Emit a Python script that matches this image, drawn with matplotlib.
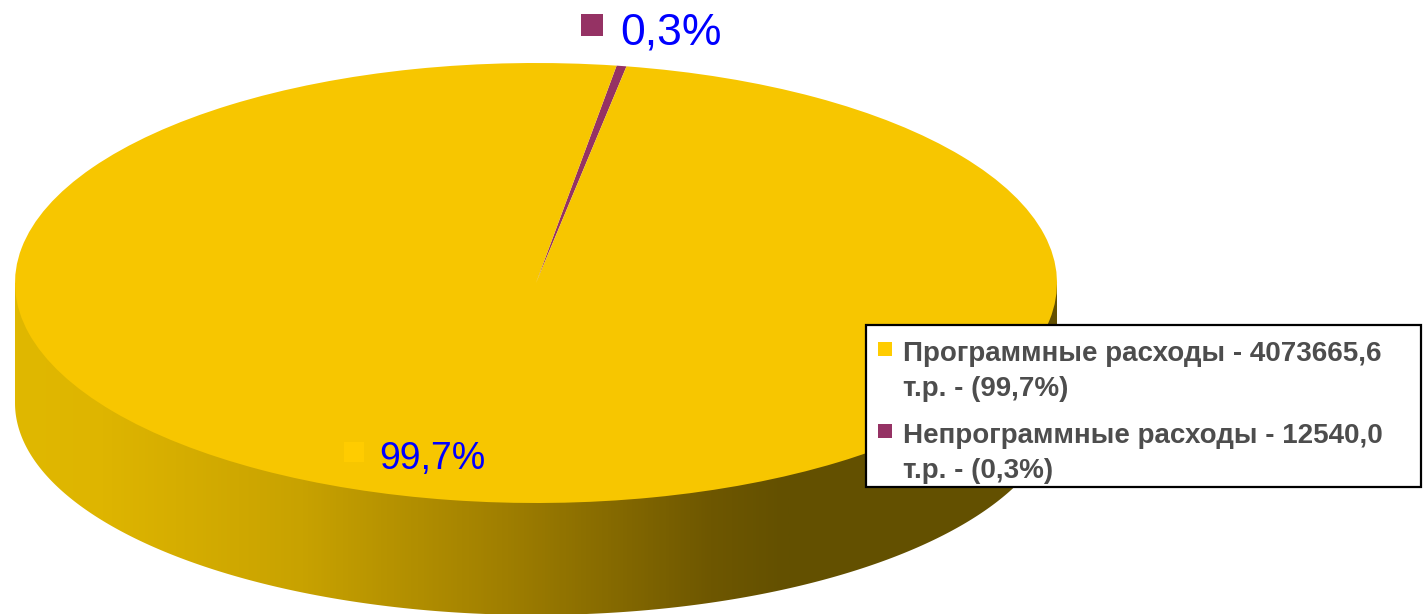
#!/usr/bin/env python3
import numpy as np
import matplotlib
matplotlib.use('Agg')
import matplotlib.pyplot as plt
from matplotlib.colors import LinearSegmentedColormap
from matplotlib.patches import Polygon, Rectangle

plt.rcParams['font.family'] = ['Liberation Sans', 'DejaVu Sans']

# dados do grafico
CATEGORIAS = ['Программные расходы', 'Непрограммные расходы']
VALORES = [4073665.6, 12540.0]
ROTULOS = ['99,7%', '0,3%']
LEGENDA = ['Программные расходы - 4073665,6\nт.р. - (99,7%)',
           'Непрограммные расходы - 12540,0\nт.р. - (0,3%)']
CORES = ['#F7C600', '#953264']

W, H = 1426, 614
CX, CY, RX, RY = 536, 283, 521, 220
ALTURA = 120
RY_BASE = 212
INICIO = 90 - 8.9  # angulo inicial da fatia pequena

fig = plt.figure(figsize=(W / 100, H / 100), dpi=100)

# lateral do disco, em coordenadas de pixel
base = fig.add_axes([0, 0, 1, 1], zorder=0)
base.set_xlim(0, W); base.set_ylim(H, 0); base.axis('off')
t = np.linspace(np.pi, 0, 300)
borda_x = CX + RX * np.cos(t)
borda_y = CY + ALTURA + RY_BASE * np.sin(t)
contorno = np.column_stack([np.r_[CX - RX, borda_x, CX + RX], np.r_[CY, borda_y, CY]])
clip = Polygon(contorno, closed=True, transform=base.transData, facecolor='none', edgecolor='none')
base.add_patch(clip)
cmap = LinearSegmentedColormap.from_list('lateral', [
    (0.0, '#E0B800'), (0.11, '#DEB500'), (0.37, '#C8A200'),
    (0.63, '#A07F00'), (0.90, '#6E5700'), (1.0, '#635000')])
img = base.imshow(np.linspace(0, 1, 800).reshape(1, -1), cmap=cmap, aspect='auto',
                  extent=[15, 790, H, 0], zorder=1)
img.set_clip_path(clip)
base.add_patch(Rectangle((790, 0), 280, H, facecolor='#635000', edgecolor='none',
                         clip_path=clip, zorder=1))
base.set_xlim(0, W); base.set_ylim(H, 0)

# topo: pizza achatada em eixos com o tamanho da elipse
topo = fig.add_axes([(CX - RX) / W, 1 - (CY + RY) / H, 2 * RX / W, 2 * RY / H], zorder=1)
topo.pie(VALORES[::-1], colors=CORES[::-1], startangle=INICIO, counterclock=False,
         radius=1, wedgeprops={'linewidth': 0})
topo.set_aspect('auto')
topo.set_xlim(-1, 1); topo.set_ylim(-1, 1)

# textos por cima
cima = fig.add_axes([0, 0, 1, 1], zorder=2)
cima.set_xlim(0, W); cima.set_ylim(H, 0); cima.axis('off')

cima.plot([354], [452], 's', color='#FFCC00', ms=14.5, mew=0)
cima.text(379, 459, ROTULOS[0], color='#0000FF', fontsize=27, va='center', ha='left')
cima.plot([592], [25], 's', color=CORES[1], ms=16, mew=0)
cima.text(620, 33, ROTULOS[1], color='#0000FF', fontsize=32, va='center', ha='left')

cima.add_patch(Rectangle((866, 325), 555, 162, facecolor='white', edgecolor='black', linewidth=1.6))
for y, cor, txt in zip([352, 434], ['#FFCC00', CORES[1]], LEGENDA):
    cima.plot([885], [y - 3], 's', color=cor, ms=10.5, mew=0)
    cima.text(903, y - 11, txt, color='#4D4D4D', fontsize=20, fontweight='bold',
              va='top', ha='left', linespacing=1.45)

fig.savefig('out.png', dpi=100)
plt.close(fig)
